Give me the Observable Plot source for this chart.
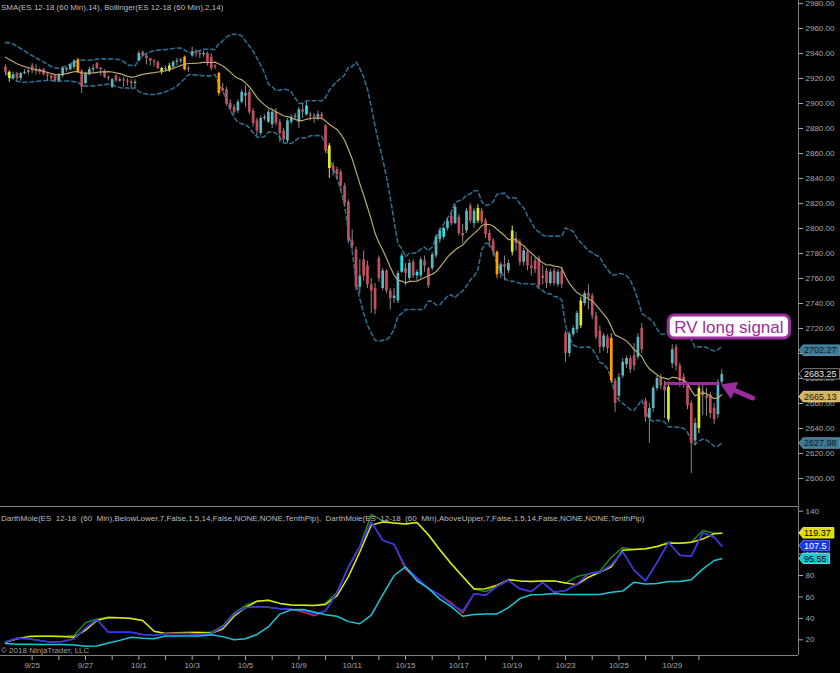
<!DOCTYPE html>
<html><head><meta charset="utf-8">
<script src="https://cdn.jsdelivr.net/npm/d3@7"></script>
<script src="https://cdn.jsdelivr.net/npm/@observablehq/plot@0.6"></script>
<style>
html,body{margin:0;padding:0;background:#000;}
#chart{position:relative;width:840px;height:673px;background:#000;overflow:hidden;font-family:"Liberation Sans",Arial,sans-serif;}
#chart svg{position:absolute;left:0;display:block;}
.note{position:absolute;left:1px;font-size:8px;line-height:8px;color:#bdbdbd;white-space:pre;}
</style></head><body><div id="chart"></div>
<script>
// ---------- DATA ----------
const priorCloses = [2946,2944,2945,2942,2940,2939,2937,2936,2935,2934,2933,2932,2930];
const opens = [
2929,2925,2920,2924,2920,2924,2925, 2930,2926,2927,2927,2923,2922,2922, 2918,2922,2927,2927,2929,2935,2926,
2916,2923,2927,2932,2928,2926,2921, 2913,2922,2918,2919,2918,2917,2916, 2934,2941,2938,2936,2934,2933,2928,
2927,2926,2929,2933,2934,2937,2928, 2938,2941,2940,2939,2940,2937,2930, 2924,2912,2911,2900,2897,2894,2901,
2906,2909,2894,2886,2876,2888,2885, 2883,2893,2885,2878,2870,2885,2889, 2885,2895,2891,2891,2890,2889,2891,
2882,2866,2850,2847,2845,2834,2821, 2790,2783,2753,2775,2770,2755,2752, 2776,2752,2766,2750,2744,2742,2765,
2768,2760,2773,2762,2762,2774,2768, 2768,2778,2791,2793,2800,2810,2804, 2809,2796,2798,2818,2804,2816,2814,
2806,2796,2790,2781,2764,2771,2766, 2781,2792,2789,2773,2781,2770,2774, 2776,2762,2766,2756,2766,2755,2766,
2716,2700,2715,2719,2722,2740,2748, 2746,2730,2718,2705,2713,2712,2678, 2666,2682,2691,2696,2698,2697,2720,
2662,2648,2656,2672,2680,2674,2673, 2692,2705,2690,2681,2675,2660,2630, 2640,2670,2666,2667,2656,2651,2677];
const highs = [
2931,2926,2925,2925,2925,2927,2929, 2932,2931,2928,2928,2924,2923,2923, 2924,2929,2929,2932,2935,2936,2927,
2925,2929,2931,2933,2929,2927,2922, 2920,2923,2921,2921,2920,2919,2919, 2942,2942,2939,2936,2935,2934,2929,
2930,2932,2934,2936,2936,2938,2930, 2945,2943,2942,2942,2941,2940,2931, 2925,2916,2913,2903,2899,2903,2911,
2914,2911,2896,2888,2890,2891,2895, 2895,2896,2887,2880,2888,2891,2892, 2897,2900,2901,2893,2892,2894,2893,
2883,2868,2853,2849,2847,2836,2823, 2799,2785,2775,2782,2774,2760,2756, 2778,2768,2767,2752,2752,2766,2780,
2772,2775,2775,2767,2777,2778,2769, 2781,2795,2800,2801,2808,2812,2819, 2811,2803,2816,2820,2816,2819,2816,
2808,2799,2792,2782,2773,2778,2775, 2802,2797,2791,2784,2783,2778,2776, 2778,2770,2768,2767,2768,2767,2769,
2718,2717,2722,2734,2745,2750,2755, 2748,2733,2722,2716,2715,2716,2680, 2684,2696,2698,2698,2708,2716,2724,
2664,2660,2674,2682,2683,2678,2677, 2707,2707,2692,2684,2677,2662,2648, 2676,2675,2672,2669,2660,2679,2687];
const lows = [
2922,2917,2919,2918,2918,2923,2923, 2924,2923,2923,2922,2918,2918,2917, 2917,2921,2925,2926,2927,2924,2908,
2915,2922,2924,2927,2922,2920,2918, 2912,2917,2917,2913,2914,2912,2913, 2933,2937,2931,2930,2929,2927,2923,
2925,2925,2928,2930,2932,2926,2925, 2937,2937,2936,2937,2930,2926,2927, 2906,2909,2898,2894,2891,2892,2900,
2897,2891,2881,2874,2874,2886,2884, 2880,2882,2869,2869,2868,2883,2887, 2880,2888,2890,2886,2884,2886,2887,
2860,2840,2842,2839,2830,2818,2788, 2783,2750,2748,2758,2752,2732,2731, 2757,2750,2748,2735,2740,2740,2764,
2754,2758,2760,2758,2760,2765,2752, 2766,2776,2788,2791,2798,2802,2803, 2794,2788,2796,2804,2800,2804,2803,
2792,2785,2778,2760,2760,2758,2764, 2778,2782,2770,2770,2766,2762,2764, 2752,2755,2752,2754,2754,2753,2752,
2693,2697,2713,2716,2720,2738,2735, 2727,2711,2700,2702,2700,2676,2653, 2663,2680,2688,2684,2686,2695,2700,
2645,2628,2653,2670,2671,2648,2645, 2688,2686,2673,2672,2655,2604,2626, 2636,2650,2650,2648,2643,2648,2675];
const closes = [
2925,2920,2923,2920,2924,2925,2926, 2926,2927,2925,2923,2922,2920,2918, 2923,2928,2928,2931,2934,2925,2913,
2924,2927,2928,2928,2927,2921,2920, 2919,2918,2919,2918,2917,2916,2917, 2940,2938,2936,2934,2933,2928,2925,
2928,2930,2933,2934,2935,2927,2927, 2941,2940,2939,2940,2932,2928,2929, 2908,2910,2899,2896,2893,2901,2909,
2908,2893,2884,2878,2888,2889,2893, 2893,2884,2876,2871,2886,2889,2890, 2895,2893,2898,2890,2889,2891,2889,
2862,2848,2846,2843,2834,2820,2790, 2786,2753,2762,2762,2755,2750,2735, 2760,2766,2750,2744,2746,2764,2778,
2764,2772,2762,2765,2775,2770,2754, 2779,2793,2798,2800,2806,2804,2817, 2796,2794,2814,2806,2814,2806,2805,
2795,2790,2781,2763,2771,2769,2772, 2798,2788,2773,2782,2770,2768,2767, 2754,2760,2756,2765,2756,2765,2755,
2700,2715,2720,2732,2742,2748,2745, 2730,2713,2705,2714,2704,2678,2660, 2681,2693,2696,2687,2690,2713,2703,
2649,2656,2672,2680,2674,2670,2647, 2703,2690,2678,2676,2658,2628,2644, 2672,2666,2664,2652,2647,2677,2683.25];
const yellowBars = [1,41,43,85,124,133,151,174,182];
const orangeBars = [19,47,56,129,159];
const brightBars = [79,104,108,115];
const dayLabels = ["9/25","9/26","9/27","9/28","10/1","10/2","10/3","10/4","10/5","10/8","10/9","10/10","10/11","10/12",
  "10/15","10/16","10/17","10/18","10/19","10/22","10/23","10/24","10/25","10/26","10/29","10/30"];
const barsPerDay = 7;
const priceTicks = [2600,2620,2640,2660,2680,2700,2720,2740,2760,2780,2800,2820,2840,2860,2880,2900,2920,2940,2960,2980];
const indTicks = [20,40,60,80,100,120,140];
// indicator panel, sampled every 3rd bar (last one = last bar)
const indBars = d3.range(0, 187, 3).concat([188]);
const indYellow = [17.8,21,23,23.4,23.4,23,22.5,29,38,40.8,40.5,40,38,28,25.9,26.5,26.8,26.8,26.2,30,42,50,56,57,54,52.5,52.3,52,53,61,79,102,127,130,129,128,129.5,118,104,91,79,67.5,67.6,71,76,75,74.4,75,75,73,71.5,78.4,83,88,103.5,104.3,105,107,110.2,110,111,114,119,119.37];
const indGreen = [17.8,21,23,23.4,23.4,23,24,36,39.5,41,40.5,40,38,28,25.9,26.5,26.8,26.8,27,33,45,52,56,57,54,52.5,52.3,52,54,64,88,107,137,131,129,128,129.5,118,104,91,79,67.5,65,70,76,75,74.4,75,75,73,79,81.5,84,97,106,104.3,105,107,111,110,111,122,119.5,119.37];
const indBlue = [18,21.5,21,19.4,17.8,18.5,21,31,39,27,27,27,25,24,26,26,26,25.5,26,32,44,50,51,50.4,49,48.5,47.4,44.3,47,64,88,107,130,113,109,88,78,68,62,53,47,63,61.5,70,75.5,67.6,65,73.5,64.5,66,72,81.6,83,90,102,85,75,92,111,99,98,120,115.7,107.5];
const indRed = [18,21.5,21,19.4,17.8,18.5,21,31,39,27,27,27,25,24,26,26,26,25.5,26,32,44,50,51,50.4,49,48.5,46,42.5,47,64,88,107,130,113,109,86,76.5,68,62,54.5,45,63,61.5,70,75.5,67.6,65,73.5,64.5,66,72,81.6,83,90,102,85,75,92,111,99,98,120,115.7,107.5];
const indCyan = [16.5,16,15.8,15.6,15.6,15.6,15.2,14,14.2,17,19.5,22.5,21.5,21,23.5,23.5,23.5,23.5,24.8,23,20,21,25,32,44,48,48.3,46,43.5,42,37,35,43,62,80,88,75,68,58,51,42,43.6,44,44.2,50,58.5,62,62.3,63.2,62.3,62.3,62.3,62.3,64.4,65.5,73.8,72,72.5,74.4,74.4,76,86,94,95.55];
const priceTagValues = [2702.27, 2683.25, 2665.13, 2627.98];
const priceTagTexts = ["2702.27","2683.25","2665.13","2627.98"];
const indTagValues = [119.37, 107.5, 95.55];
const indTagTexts = ["119.37","107.5","95.55"];
const signalLine = {from: 173.2, to: 187.3, price: 2676};
const signalArrow = {fromBar: 196.2, fromPrice: 2664, toBar: 188.2, toPrice: 2674.4};
const signalLabel = {bar: 190.0, price: 2721.2, text: "RV long signal"};
const topTitle = "SMA(ES 12-18 (60 Min),14), Bollinger(ES 12-18 (60 Min),2,14)";
const lowTitle = "DarthMole(ES  12-18  (60  Min),BelowLower,7,False,1.5,14,False,NONE,NONE,TenthPip),  DarthMole(ES  12-18  (60  Min),AboveUpper,7,False,1.5,14,False,NONE,NONE,TenthPip)";
const copyright = "© 2018 NinjaTrader, LLC";

// ---------- STYLE ----------
const FONT = "'Liberation Sans', Arial, sans-serif";
const AXIS = "#808080";
const PURPLE = "#9b2d9f";
const xDomain = [-1.31, 208.14];
const priceTagStyles = [
  {fill:"#4585a3", stroke:"#6aa2bf", text:"#0c1d28"},
  {fill:"#000000", stroke:"#a0a0a0", text:"#e6e6e6"},
  {fill:"#e8c66c", stroke:"#f6dea0", text:"#2a2208"},
  {fill:"#4585a3", stroke:"#6aa2bf", text:"#0c1d28"}];
const indTagStyles = [
  {fill:"#f4f400", stroke:"#ffff90", text:"#000000"},
  {fill:"#1e3cff", stroke:"#7088ff", text:"#ffffff"},
  {fill:"#10e0ee", stroke:"#90f4fa", text:"#000000"}];

// ---------- DERIVED ----------
const yS = new Set(yellowBars), oS = new Set(orangeBars), bS = new Set(brightBars);
const allCloses = priorCloses.concat(closes);
const n0 = priorCloses.length;
const bars = closes.map((c, i) => {
  const w = allCloses.slice(i + n0 - 13, i + n0 + 1);
  const m = d3.mean(w);
  const sd = Math.sqrt(d3.mean(w, v => (v - m) ** 2));
  return {i, open: opens[i], high: highs[i], low: lows[i], close: c, sma: m, upper: m + 2 * sd, lower: m - 2 * sd};
});
function special(d) {
  if (yS.has(d.i)) return "#dfe82a";
  if (oS.has(d.i)) return "#ffa000";
  if (bS.has(d.i)) return "#12ecf6";
  return null;
}
const bodyColor = d => special(d) || (d.close >= d.open ? "#5cb6bf" : "#c24f5d");
const wickColor = d => (yS.has(d.i) || oS.has(d.i)) ? special(d) : "#8a8a8a";
const ind = indBars.map((b, j) => ({i: b, yellow: indYellow[j], green: indGreen[j], blue: indBlue[j], red: indRed[j], cyan: indCyan[j]}));
const dayTicks = dayLabels.map((_, k) => barsPerDay * (k + 1));

const container = document.getElementById("chart");
const baseStyle = {background: "transparent", color: "#a9a9a9", fontFamily: FONT, fontSize: "8px", overflow: "visible"};

const topPlot = Plot.plot({
  width: 840, height: 505, marginTop: 0, marginBottom: 0, marginLeft: 0, marginRight: 42,
  style: baseStyle,
  x: {domain: xDomain, axis: null},
  y: {domain: [2578.4, 2982.4], axis: "right", ticks: priceTicks, tickFormat: d => d.toFixed(2), tickSize: 4, tickPadding: 3, label: null},
  marks: [
    Plot.ruleX([xDomain[1]], {stroke: AXIS}),
    Plot.line(bars, {x: "i", y: "upper", stroke: "#2c6c8c", strokeWidth: 1.6, strokeDasharray: "4,3"}),
    Plot.line(bars, {x: "i", y: "lower", stroke: "#2c6c8c", strokeWidth: 1.6, strokeDasharray: "4,3"}),
    Plot.ruleX(bars, {x: "i", y1: "low", y2: "high", stroke: wickColor, strokeWidth: 1}),
    Plot.ruleX(bars, {x: "i", y1: "open", y2: "close", stroke: bodyColor, strokeWidth: 2.7}),
    Plot.line(bars, {x: "i", y: "sma", stroke: "#bba86e", strokeWidth: 1.2}),
    Plot.ruleY([signalLine], {y: "price", x1: "from", x2: "to", stroke: PURPLE, strokeWidth: 3})
  ]
});
topPlot.style.top = "0px";
container.appendChild(topPlot);

const lowPlot = Plot.plot({
  width: 840, height: 168, marginTop: 1, marginBottom: 18, marginLeft: 0, marginRight: 42,
  style: baseStyle,
  x: {domain: xDomain, ticks: dayTicks, tickFormat: d => { const k = d / barsPerDay - 1; return k % 2 === 0 ? dayLabels[k] : ""; }, tickSize: 5, tickPadding: 2, label: null},
  y: {domain: [5.39, 144.38], axis: "right", ticks: indTicks, tickFormat: d => String(d), tickSize: 4, tickPadding: 3, label: null},
  marks: [
    Plot.ruleY([144.38], {stroke: AXIS}),
    Plot.ruleY([5.39], {stroke: AXIS}),
    Plot.ruleX([xDomain[1]], {stroke: AXIS}),
    Plot.line(ind, {x: "i", y: "green", stroke: "#1d8a1d", strokeWidth: 1.5}),
    Plot.line(ind, {x: "i", y: "yellow", stroke: "#e6e600", strokeWidth: 1.5}),
    Plot.line(ind, {x: "i", y: "red", stroke: "#e02424", strokeWidth: 1.5}),
    Plot.line(ind, {x: "i", y: "blue", stroke: "#1f3dff", strokeWidth: 1.5}),
    Plot.line(ind, {x: "i", y: "cyan", stroke: "#18c8d4", strokeWidth: 1.5})
  ]
});
lowPlot.style.top = "505px";
container.appendChild(lowPlot);

// ---------- annotations via the plots' own scales ----------
function sc(plot, name) {
  const s = plot.scale(name);
  return s.apply ? (v => s.apply(v)) : d3.scaleLinear(s.domain, s.range);
}
function tag(svg, xr, y, label, st, fs) {
  const g = d3.select(svg).append("g");
  const t = g.append("text").attr("x", xr + 6).attr("y", y).attr("dy", "0.36em").attr("text-anchor", "start")
    .attr("font-size", fs).attr("font-family", FONT).attr("fill", st.text).text(label);
  const w = t.node().getComputedTextLength();
  const h = fs + 1.5;
  g.insert("path", "text")
    .attr("d", `M${xr + 1},${y}L${xr + 5},${y - h / 2}H${xr + w + 9}V${y + h / 2}H${xr + 5}Z`)
    .attr("fill", st.fill).attr("fill-opacity", 0.9).attr("stroke", st.stroke).attr("stroke-width", 0.8);
}
const tx = sc(topPlot, "x"), ty = sc(topPlot, "y");
const xr = tx(xDomain[1]);
priceTagValues.forEach((v, k) => tag(topPlot, xr, ty(v), priceTagTexts[k], priceTagStyles[k], 9));
const ly = sc(lowPlot, "y");
indTagValues.forEach((v, k) => tag(lowPlot, xr, ly(v), indTagTexts[k], indTagStyles[k], 9));

const tsvg = d3.select(topPlot);
{
  const x1 = tx(signalArrow.fromBar), y1 = ty(signalArrow.fromPrice);
  const x2 = tx(signalArrow.toBar), y2 = ty(signalArrow.toPrice);
  const a = Math.atan2(y2 - y1, x2 - x1);
  const hl = 13, hw = 8;
  const bx = x2 - hl * Math.cos(a), by = y2 - hl * Math.sin(a);
  tsvg.append("line").attr("x1", x1).attr("y1", y1).attr("x2", bx + 2 * Math.cos(a)).attr("y2", by + 2 * Math.sin(a))
    .attr("stroke", PURPLE).attr("stroke-width", 5).attr("stroke-linecap", "round");
  tsvg.append("path")
    .attr("d", `M${x2},${y2}L${bx + hw * Math.sin(a)},${by - hw * Math.cos(a)}L${bx - hw * Math.sin(a)},${by + hw * Math.cos(a)}Z`)
    .attr("fill", PURPLE).attr("stroke", PURPLE).attr("stroke-width", 1.5).attr("stroke-linejoin", "round");
  const g = tsvg.append("g");
  const cx = tx(signalLabel.bar), cy = ty(signalLabel.price);
  const t = g.append("text").attr("x", cx).attr("y", cy).attr("dy", "0.36em").attr("text-anchor", "middle")
    .attr("font-size", 17).attr("font-family", FONT).attr("fill", PURPLE).text(signalLabel.text);
  const w = t.node().getComputedTextLength();
  g.insert("rect", "text").attr("x", cx - w / 2 - 6).attr("y", cy - 11.5).attr("width", w + 12).attr("height", 23)
    .attr("rx", 6).attr("fill", "#ffffff").attr("stroke", PURPLE).attr("stroke-width", 3);
}

// ---------- texts ----------
function note(text, top, color) {
  const d = document.createElement("div");
  d.className = "note"; d.textContent = text; d.style.top = top + "px";
  if (color) d.style.color = color;
  container.appendChild(d);
}
note(topTitle, 3.5);
note(lowTitle, 515);
note(copyright, 647, "#a0a0a0");
</script>
</body></html>
